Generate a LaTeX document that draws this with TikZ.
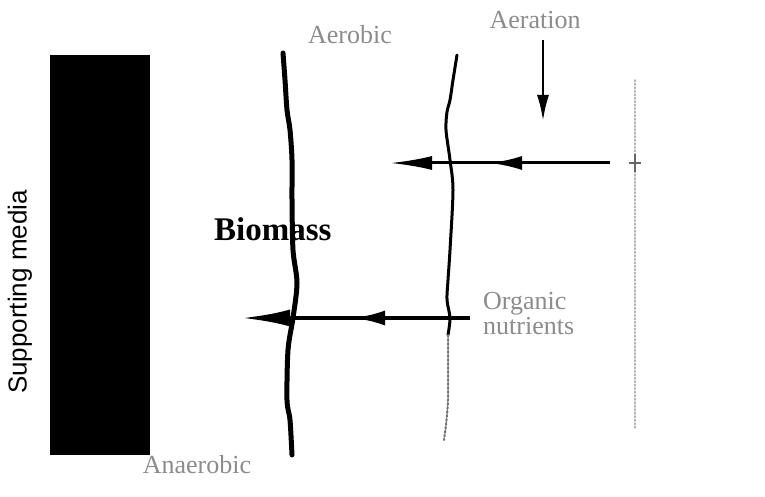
\documentclass[tikz,border=0pt]{standalone}
\usepackage{fontspec}
\setmainfont{Liberation Serif}
\newfontfamily\arialf{Liberation Sans}
\usetikzlibrary{arrows.meta}
\tikzset{
  faintlabel/.style={text=black!45,font=\fontsize{26}{25}\selectfont,inner sep=0pt,align=left},
  layerline/.style={line width=#1,line cap=round,line join=round},
  flowline/.style={line width=#1},
}
\begin{document}
\begin{tikzpicture}[x=1pt,y=-1pt]
\useasboundingbox[fill=white] (0,0) rectangle (765,497);
% supporting media
\node[fill=black,minimum width=100pt,minimum height=400pt,inner sep=0pt,anchor=north west] (media) at (50,55) {};
\node[rotate=90,font=\arialf\fontsize{26}{28}\selectfont,inner sep=0pt] (medialabel) at (20,292) {Supporting media};
% Biomass label
\node[font=\bfseries\fontsize{33}{36}\selectfont,inner sep=0pt,anchor=west] (biomass) at (214,229) {Biomass};
% layer boundaries
\draw[layerline=5pt] plot[smooth] coordinates {(283,53) (285,80) (287,110) (290,130) (292,160) (292,200) (293,250) (297,283) (293,318) (288,350) (287,400) (290,420) (292,455)};
\draw[layerline=3pt] plot[smooth] coordinates {(457,55) (453,80) (450,100) (447,112) (446,130) (450,160) (453,190) (450,250) (448,280) (447,300) (450,318) (448,335)};
\draw[layerline=2pt,black!55,dotted] plot[smooth] coordinates {(448,335) (448,370) (448,400) (446,425) (444,440)};
\draw[layerline=1.5pt,black!30,dotted] (635,80) -- (635,430);
% labels
\node[faintlabel,anchor=center] (aerobic) at (350,35) {Aerobic};
\node[faintlabel,anchor=center] (aeration) at (535,20) {Aeration};
\node[faintlabel,anchor=west] (organic) at (483,314) {Organic\\nutrients};
\node[faintlabel,anchor=center] (anaerobic) at (197,465) {Anaerobic};
% coordinates for arrows
\coordinate (dtop) at (543,40);
\coordinate (dbot) at (543,121);
\coordinate (tR) at (610,163);
\coordinate (tM) at (490,163);
\coordinate (tJ) at (425,163);
\coordinate (tL) at (390,163);
\coordinate (bR) at (470,318);
\coordinate (bM) at (353,318);
\coordinate (bJ) at (280,318);
\coordinate (bL) at (242,318);
\coordinate (cross) at (635,163);
% arrows
\draw[flowline=2.5pt,-{Latex[length=26pt,width=12pt]}] (dtop) -- (dbot);
\draw[flowline=3pt] (tR) -- (tJ);
\draw[flowline=3pt,-{Latex[length=32pt,width=14pt]}] (tR) -- (tM);
\draw[flowline=3pt,-{Latex[length=42pt,width=14pt]}] (tM) -- (tL);
\draw[flowline=4pt] (bR) -- (bJ);
\draw[flowline=4pt,-{Latex[length=32pt,width=15pt]}] (bR) -- (bM);
\draw[flowline=4pt,-{Latex[length=48pt,width=17pt]}] (bM) -- (bL);
% small cross
\draw[line width=1.5pt,black!60] ([xshift=-6pt]cross) -- ([xshift=6pt]cross);
\draw[line width=1.5pt,black!60] ([yshift=-9pt]cross) -- ([yshift=9pt]cross);
\end{tikzpicture}
\end{document}
